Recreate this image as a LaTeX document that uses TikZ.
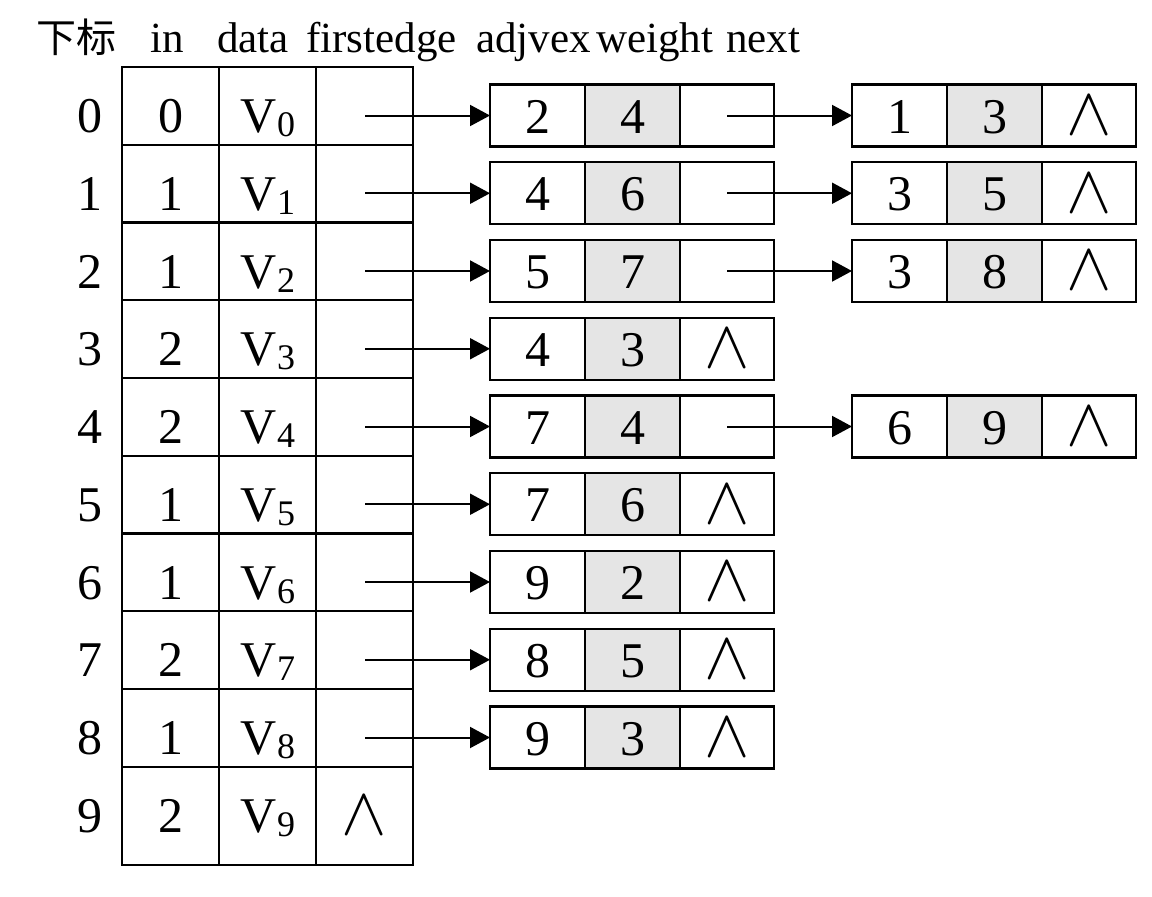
\documentclass[tikz,border=0pt]{standalone}
\usepackage{fontspec}
\usepackage{graphicx}
\setmainfont{Liberation Serif}
\newfontfamily\cjk{Noto Sans CJK SC}
\usetikzlibrary{arrows.meta}
\begin{document}
\begin{tikzpicture}[x=1pt,y=-1pt,
  cell/.style={draw=black,line width=2.4pt},
  grey/.style={fill=gray!20},
  txt/.style={inner sep=0pt,anchor=base,font=\fontsize{50}{56}\selectfont},
  hdr/.style={inner sep=0pt,anchor=base west,font=\fontsize{43}{48}\selectfont},
  ptr/.style={line width=2pt,-{Triangle[length=20pt,width=21pt]}},
  nullsym/.style={inner sep=0pt,font=\fontsize{10}{12}\selectfont}]
\useasboundingbox (0,0) rectangle (1152,897);
\fill[white] (0,0) rectangle (1152,897);
% header
\node[hdr,font=\cjk\fontsize{40}{46}\selectfont] (h0) at (36,52) {下标};
\node[hdr] (h1) at (150,52) {in};
\node[hdr] (h2) at (217,52) {data};
\node[hdr] (h3) at (306,52) {firstedge};
\node[hdr] (h4) at (476,52) {adjvex};
\node[hdr] (h5) at (596,52) {weight};
\node[hdr] (h6) at (726,52) {next};
% vertex table
\def\vin{{0,1,1,2,2,1,1,2,1,2}}
\foreach \i in {0,...,9}{
  \pgfmathsetmacro{\T}{67+77.75*\i}
  \pgfmathsetmacro{\B}{ifthenelse(\i==9,865,67+77.75*(\i+1))}
  \pgfmathsetmacro{\bl}{\T+48.5+17}
  \pgfmathtruncatemacro{\iv}{\vin[\i]}
  \draw[cell] (122,\T) rectangle (219,\B);
  \draw[cell] (219,\T) rectangle (316,\B);
  \draw[cell] (316,\T) rectangle (413,\B);
  \node[txt] (idx\i) at (90,\bl) {\i};
  \node[txt] (in\i) at (171,\bl) {\iv};
  \node[txt] (v\i) at (268,\bl) {V\raisebox{-4pt}{\fontsize{36}{40}\selectfont\i}};
  \coordinate (fe\i) at (365,\T+48.5);
}
\node[nullsym] (n9) at (364.5,816) {\scalebox{6.8}{$\wedge$}};
% edge nodes
% \e: name/row/xleft/adjvex/weight/hasnext
\foreach \nm/\r/\xl/\a/\w/\nx in {
  a0/0/490/2/4/1, b0/0/852/1/3/0,
  a1/1/490/4/6/1, b1/1/852/3/5/0,
  a2/2/490/5/7/1, b2/2/852/3/8/0,
  a3/3/490/4/3/0,
  a4/4/490/7/4/1, b4/4/852/6/9/0,
  a5/5/490/7/6/0,
  a6/6/490/9/2/0,
  a7/7/490/8/5/0,
  a8/8/490/9/3/0}{
  \pgfmathsetmacro{\yc}{115.5+77.75*\r}
  \draw[cell] (\xl,\yc-31) rectangle ++(95,62);
  \draw[cell,grey] (\xl+95,\yc-31) rectangle ++(95,62);
  \draw[cell] (\xl+190,\yc-31) rectangle ++(94,62);
  \coordinate (\nm) at (\xl,\yc);
  \node[txt] (\nm-adj) at (\xl+47.5,\yc+17.5) {\a};
  \node[txt] (\nm-w) at (\xl+142.5,\yc+17.5) {\w};
  \ifnum\nx=1
    \coordinate (\nm-nx) at (\xl+237,\yc);
  \else
    \node[nullsym] (\nm-nx) at (\xl+237,\yc) {\scalebox{6.8}{$\wedge$}};
  \fi
}
% pointers from vertex table
\foreach \i in {0,...,8}{
  \draw[ptr] (fe\i) -- (a\i);
}
% pointers between edge nodes
\draw[ptr] (a0-nx) -- (b0);
\draw[ptr] (a1-nx) -- (b1);
\draw[ptr] (a2-nx) -- (b2);
\draw[ptr] (a4-nx) -- (b4);
\end{tikzpicture}
\end{document}
